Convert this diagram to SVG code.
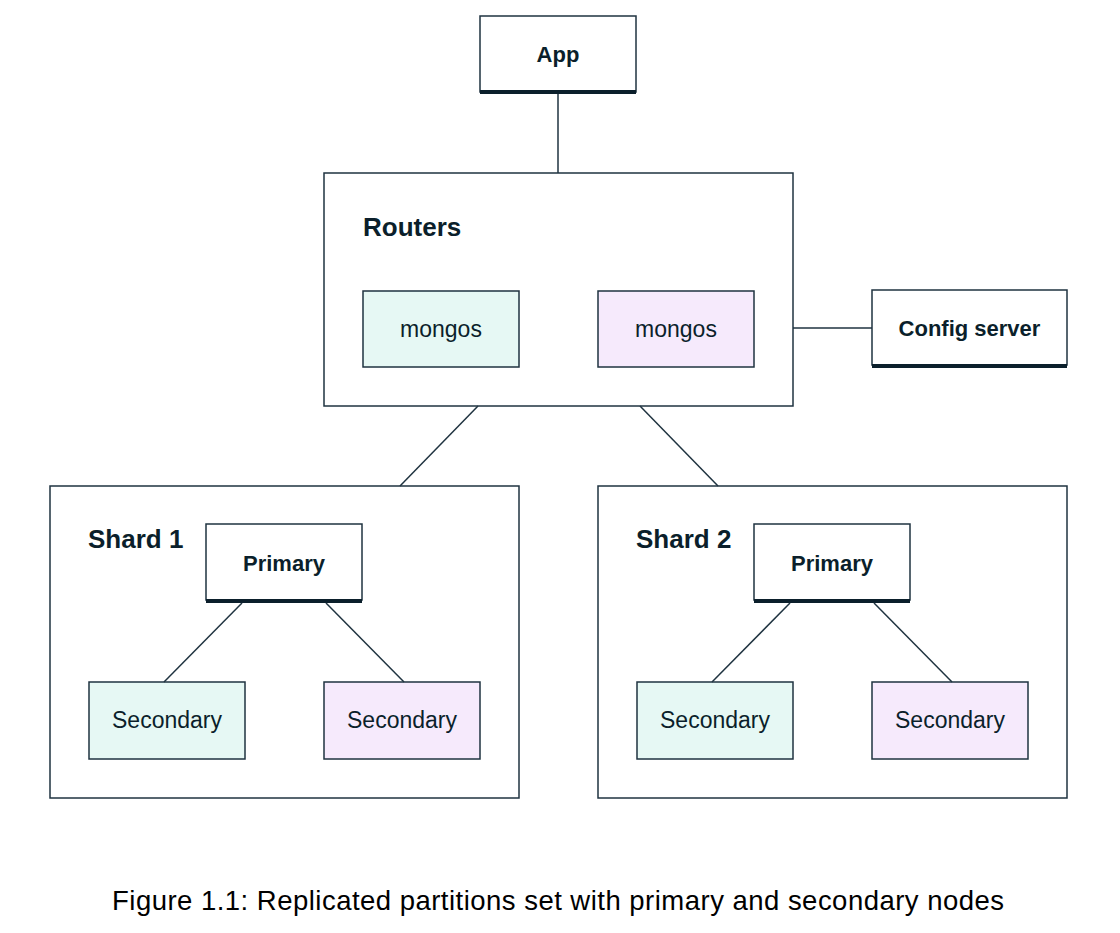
<svg xmlns="http://www.w3.org/2000/svg" width="1120" height="933" viewBox="0 0 1120 933">
<style>
.box{fill:#ffffff;stroke:#1f3340;stroke-width:1.5}
.teal{fill:#e6f8f4;stroke:#1f3340;stroke-width:1.5}
.lav{fill:#f6eafc;stroke:#1f3340;stroke-width:1.5}
.bar{fill:#0b1f2b}
.conn line{stroke:#1f3340;stroke-width:1.5}
text{font-family:"Liberation Sans",Arial,sans-serif;fill:#0b1f2b}
.b{font-weight:bold;font-size:22px}
.r{font-size:23px}
.h{font-weight:bold;font-size:26px}
.cap{font-size:27.5px;fill:#000}
</style>
<rect width="1120" height="933" fill="#ffffff"/>
<g id="app">
<rect class="box" x="480" y="16" width="156" height="76"/>
<rect class="bar" x="480" y="90" width="156" height="4"/>
<text class="b" x="558" y="62" text-anchor="middle">App</text>
</g>
<g id="routers">
<rect class="box" x="324" y="173" width="469" height="233"/>
<text class="h" x="363" y="236">Routers</text>
</g>
<g id="mongos1">
<rect class="teal" x="363" y="291" width="156" height="76"/>
<text class="r" x="441" y="337" text-anchor="middle">mongos</text>
</g>
<g id="mongos2">
<rect class="lav" x="598" y="291" width="156" height="76"/>
<text class="r" x="676" y="337" text-anchor="middle">mongos</text>
</g>
<g id="config">
<rect class="box" x="872" y="290" width="195" height="75"/>
<rect class="bar" x="872" y="364" width="195" height="4"/>
<text class="b" x="969.5" y="336" text-anchor="middle">Config server</text>
</g>
<g id="shard1">
<rect class="box" x="50" y="486" width="469" height="312"/>
<text class="h" x="88" y="548">Shard 1</text>
</g>
<g id="primary1">
<rect class="box" x="206" y="524" width="156" height="76"/>
<rect class="bar" x="206" y="599" width="156" height="4"/>
<text class="b" x="284" y="571" text-anchor="middle">Primary</text>
</g>
<g id="secondary1a">
<rect class="teal" x="89" y="682" width="156" height="77"/>
<text class="r" x="167" y="728" text-anchor="middle">Secondary</text>
</g>
<g id="secondary1b">
<rect class="lav" x="324" y="682" width="156" height="77"/>
<text class="r" x="402" y="728" text-anchor="middle">Secondary</text>
</g>
<g id="shard2">
<rect class="box" x="598" y="486" width="469" height="312"/>
<text class="h" x="636" y="548">Shard 2</text>
</g>
<g id="primary2">
<rect class="box" x="754" y="524" width="156" height="76"/>
<rect class="bar" x="754" y="599" width="156" height="4"/>
<text class="b" x="832" y="571" text-anchor="middle">Primary</text>
</g>
<g id="secondary2a">
<rect class="teal" x="637" y="682" width="156" height="77"/>
<text class="r" x="715" y="728" text-anchor="middle">Secondary</text>
</g>
<g id="secondary2b">
<rect class="lav" x="872" y="682" width="156" height="77"/>
<text class="r" x="950" y="728" text-anchor="middle">Secondary</text>
</g>
<g id="connectors" class="conn">
<line x1="558" y1="94" x2="558" y2="173"/>
<line x1="793" y1="328" x2="872" y2="328"/>
<line x1="478" y1="406" x2="400" y2="486"/>
<line x1="640" y1="406" x2="718" y2="486"/>
<line x1="242" y1="603" x2="164" y2="682"/>
<line x1="326" y1="603" x2="404" y2="682"/>
<line x1="790" y1="603" x2="712" y2="682"/>
<line x1="874" y1="603" x2="952" y2="682"/>
</g>
<text class="cap" x="558" y="910" text-anchor="middle" textLength="892">Figure 1.1: Replicated partitions set with primary and secondary nodes</text>
</svg>
